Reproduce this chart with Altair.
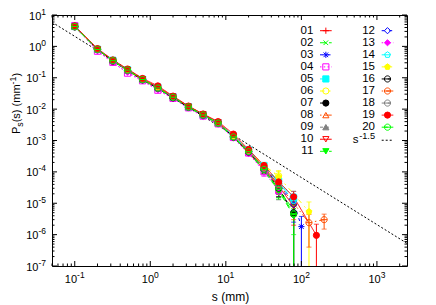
import altair as alt
import pandas as pd
import math

# ---------------- data ----------------
S_BINS = [0.1, 0.2, 0.32, 0.5, 0.79, 1.26, 2.0, 3.2, 5.0, 7.9, 12.6, 20, 32, 50, 79, 100, 126, 158, 200]
N = None
P_VALUES = {
    "01": [4.4, 0.82, 0.36, 0.18, 0.090, 0.049, 0.025, 0.0122, 0.0068, 0.0038, 0.00140, 4.8e-4, 1.4e-4, 3.8e-5, N, N, N, N, N],
    "02": [4.3, 0.80, 0.35, 0.17, 0.087, 0.046, 0.024, 0.0115, 0.0064, 0.0035, 0.00128, 4.3e-4, 1.2e-4, 2.8e-5, 6.0e-6, N, N, N, N],
    "03": [4.2, 0.79, 0.36, 0.175, 0.089, 0.048, 0.024, 0.0118, 0.0067, 0.0037, 0.00135, 4.6e-4, 1.5e-4, 4.5e-5, 1.1e-5, 1.8e-6, N, N, N],
    "04": [4.6, 0.70, 0.31, 0.14, 0.080, 0.040, 0.022, 0.0110, 0.0060, 0.0034, 0.00125, 4.0e-4, 1.0e-4, 2.5e-5, N, N, N, N, N],
    "05": [4.3, 0.81, 0.36, 0.18, 0.089, 0.050, 0.025, 0.0120, 0.0066, 0.0037, 0.00140, 5.0e-4, 1.6e-4, 5.0e-5, 1.5e-5, N, N, N, N],
    "06": [4.3, 0.80, 0.35, 0.18, 0.088, 0.047, 0.024, 0.0118, 0.0066, 0.0036, 0.00135, 4.8e-4, 1.6e-4, 7.5e-5, N, N, N, N, N],
    "07": [4.2, 0.80, 0.35, 0.17, 0.086, 0.047, 0.023, 0.0115, 0.0065, 0.0037, 0.00130, 4.5e-4, 1.3e-4, 3.0e-5, 4.5e-6, N, N, N, N],
    "08": [4.3, 0.81, 0.35, 0.175, 0.089, 0.050, 0.024, 0.0120, 0.0067, 0.0036, 0.00135, 4.6e-4, 1.4e-4, 4.0e-5, 1.0e-5, N, N, N, N],
    "09": [4.2, 0.79, 0.34, 0.17, 0.087, 0.046, 0.023, 0.0116, 0.0064, 0.0035, 0.00132, 4.7e-4, 1.3e-4, 3.5e-5, N, N, N, N, N],
    "10": [4.3, 0.80, 0.35, 0.175, 0.090, 0.049, 0.025, 0.0120, 0.0068, 0.0038, 0.00130, 4.0e-4, 1.2e-4, 3.5e-5, 8.0e-6, N, N, N, N],
    "11": [4.2, 0.78, 0.34, 0.17, 0.086, 0.045, 0.023, 0.0114, 0.0063, 0.0034, 0.00125, 4.2e-4, 1.1e-4, 2.5e-5, 4.0e-6, N, N, N, N],
    "12": [4.3, 0.80, 0.35, 0.175, 0.088, 0.047, 0.024, 0.0117, 0.0065, 0.0036, 0.00133, 4.5e-4, 1.35e-4, 3.8e-5, 9.0e-6, N, N, N, N],
    "13": [4.5, 0.72, 0.30, 0.15, 0.082, 0.041, 0.022, 0.0108, 0.0058, 0.0033, 0.00120, 3.8e-4, 1.1e-4, 3.0e-5, N, N, N, N, N],
    "14": [4.3, 0.81, 0.36, 0.18, 0.090, 0.050, 0.025, 0.0121, 0.0067, 0.0037, 0.00138, 4.9e-4, 1.5e-4, 4.5e-5, 1.2e-5, N, N, N, N],
    "15": [4.3, 0.80, 0.35, 0.175, 0.088, 0.048, 0.024, 0.0118, 0.0066, 0.0036, 0.00136, 4.8e-4, 1.55e-4, 7.0e-5, N, N, 5.4e-6, N, N],
    "16": [4.2, 0.79, 0.34, 0.17, 0.086, 0.046, 0.023, 0.0114, 0.0064, 0.0036, 0.00128, 4.3e-4, 1.2e-4, 3.0e-5, 5.0e-6, N, N, N, N],
    "17": [4.3, 0.80, 0.35, 0.175, 0.089, 0.049, 0.025, 0.0122, 0.0068, 0.0037, 0.00135, 4.6e-4, 1.4e-4, 4.0e-5, N, N, 2.4e-6, N, 3.0e-6],
    "18": [4.2, 0.79, 0.35, 0.17, 0.087, 0.047, 0.024, 0.0116, 0.0065, 0.0036, 0.00130, 4.5e-4, 1.3e-4, 3.5e-5, N, N, N, N, N],
    "19": [4.5, 0.85, 0.37, 0.19, 0.095, 0.055, 0.026, 0.0125, 0.0070, 0.0040, 0.00160, 5.2e-4, 1.6e-4, 4.8e-5, 1.6e-5, N, N, 9.5e-7, N],
    "20": [4.3, 0.80, 0.35, 0.175, 0.088, 0.047, 0.024, 0.0117, 0.0065, 0.0036, 0.00130, 4.4e-4, 1.2e-4, 2.8e-5, 4.5e-6, N, N, N, N],
}
# error bars for the tail bins s = 20, 32, 50, 79, 100, 126, 158, 200
ERR_TAIL = {
    "01": [5.0e-5, 3.5e-5, 1.7e-5, N, N, N, N, N],
    "02": [4.5e-5, 3.0e-5, 1.3e-5, 5.0e-6, N, N, N, N],
    "03": [5.0e-5, 3.5e-5, 2.0e-5, 7.0e-6, 2.0e-6, N, N, N],
    "04": [4.5e-5, 2.8e-5, 1.2e-5, N, N, N, N, N],
    "05": [5.0e-5, 3.5e-5, 2.0e-5, 9.0e-6, N, N, N, N],
    "06": [5.0e-5, 4.0e-5, 3.5e-5, N, N, N, N, N],
    "07": [4.5e-5, 3.0e-5, 1.4e-5, 4.6e-6, N, N, N, N],
    "08": [4.5e-5, 3.2e-5, 1.8e-5, 7.0e-6, N, N, N, N],
    "09": [4.5e-5, 3.0e-5, 1.6e-5, N, N, N, N, N],
    "10": [4.2e-5, 3.0e-5, 1.6e-5, 6.0e-6, N, N, N, N],
    "11": [4.3e-5, 2.8e-5, 1.2e-5, 4.2e-6, N, N, N, N],
    "12": [4.5e-5, 3.2e-5, 1.7e-5, 6.5e-6, N, N, N, N],
    "13": [4.0e-5, 2.8e-5, 1.4e-5, N, N, N, N, N],
    "14": [5.0e-5, 3.4e-5, 1.9e-5, 8.0e-6, N, N, N, N],
    "15": [5.0e-5, 3.5e-5, 3.3e-5, N, N, 5.6e-6, N, N],
    "16": [4.4e-5, 3.0e-5, 1.4e-5, 5.0e-6, N, N, N, N],
    "17": [4.6e-5, 3.2e-5, 1.8e-5, N, N, 2.0e-6, N, 1.5e-6],
    "18": [4.5e-5, 3.0e-5, 1.6e-5, N, N, N, N, N],
    "19": [5.0e-5, 3.6e-5, 2.0e-5, 8.0e-6, N, N, 1.2e-6, N],
    "20": [4.4e-5, 3.0e-5, 1.3e-5, 4.8e-6, N, N, N, N],
}
NAMES = list(P_VALUES.keys())
REF_AMPLITUDE = 0.066
REF_EXPONENT = -1.5
X_DOMAIN = [0.05, 2500]
Y_DOMAIN = [1e-7, 10]
X_MAJOR = [0.1, 1, 10, 100, 1000]
Y_MAJOR = [1e-7, 1e-6, 1e-5, 1e-4, 1e-3, 1e-2, 1e-1, 1, 10]

# ---------------- styles (gnuplot postscript look) ----------------
COLORS = ["#ff0000", "#00ff00", "#0000ff", "#ff00ff", "#00ffff", "#ffff00", "#000000", "#ff4d00", "#808080",
          "#ff0000", "#00ff00", "#0000ff", "#ff00ff", "#00ffff", "#ffff00", "#000000", "#ff4d00", "#808080",
          "#ff0000", "#00ff00"]
PLUS = "M-1,0L1,0M0,-1L0,1"
CROSS = "M-0.75,-0.75L0.75,0.75M-0.75,0.75L0.75,-0.75"
STAR = PLUS + CROSS
PENT = "M0,-1L0.951,-0.309L0.588,0.809L-0.588,0.809L-0.951,-0.309Z"
CIRCX = "M-1,0A1,1,0,1,0,1,0A1,1,0,1,0,-1,0ZM-1,0L1,0"
SHAPES = [PLUS, CROSS, STAR, "square", "square", "circle", "circle", "triangle-up", "triangle-up",
          "triangle-down", "triangle-down", "diamond", "diamond", PENT, PENT,
          CIRCX, CIRCX, CIRCX, "circle", CIRCX]
OPEN = "transparent"
FILLS = [OPEN, OPEN, OPEN, OPEN, COLORS[4], OPEN, COLORS[6], OPEN, COLORS[8],
         OPEN, COLORS[10], OPEN, COLORS[12], OPEN, COLORS[14],
         OPEN, OPEN, OPEN, COLORS[18], OPEN]
LT = [[1, 0], [6, 3], [3, 4.5], [1.5, 2.25], [9, 3, 1.5, 3], [4.5, 4.5, 1.5, 4.5],
      [3, 3, 3, 9], [1.5, 3, 9, 3, 1.5, 3], [3, 3, 3, 3, 3, 3, 3, 6]]
DASHES = [LT[i % 9] for i in range(len(NAMES))]
FONT = "Liberation Sans"
MSIZE = 38
KF = 11.5

W, H = 355, 251

# ---------------- tables ----------------
rows, err_rows = [], []
for name in NAMES:
    errs = [N] * 11 + ERR_TAIL[name]
    for s, p, e in zip(S_BINS, P_VALUES[name], errs):
        if p is None:
            continue
        rows.append({"series": name, "s": s, "P": p})
        if e is not None:
            err_rows.append({"series": name, "s": s, "lo": max(p - e, 1e-9), "hi": p + e})
df = pd.DataFrame(rows)
df_err = pd.DataFrame(err_rows)
df_ref = pd.DataFrame({"s": X_DOMAIN, "P": [REF_AMPLITUDE * v ** REF_EXPONENT for v in X_DOMAIN]})

xs = alt.Scale(type="log", domain=X_DOMAIN, nice=False)
ys = alt.Scale(type="log", domain=Y_DOMAIN, nice=False)
px = alt.Scale(type="linear", domain=[0, W], nice=False, zero=False)
py = alt.Scale(type="linear", domain=[H, 0], nice=False, zero=False)
c_scale = alt.Scale(domain=NAMES, range=COLORS)
sh_scale = alt.Scale(domain=NAMES, range=SHAPES)
f_scale = alt.Scale(domain=NAMES, range=FILLS)
d_scale = alt.Scale(domain=NAMES, range=DASHES)

X = lambda f: alt.X(f, type="quantitative", scale=xs, axis=None)
Y = lambda f: alt.Y(f, type="quantitative", scale=ys, axis=None)
PX = lambda f: alt.X(f, type="quantitative", scale=px, axis=None)
PY = lambda f: alt.Y(f, type="quantitative", scale=py, axis=None)
COL = alt.Color("series:N", scale=c_scale, legend=None)

lines = alt.Chart(df).mark_line(strokeWidth=1, clip=True).encode(
    x=X("s"), y=Y("P"), color=COL,
    strokeDash=alt.StrokeDash("series:N", scale=d_scale, legend=None),
    order="s:Q")
ebars = alt.Chart(df_err).mark_rule(strokeWidth=1, clip=True).encode(
    x=X("s"), y=Y("lo"), y2="hi", color=COL)
caps = alt.Chart(df_err).transform_fold(["lo", "hi"], as_=["end", "val"]).mark_tick(
    orient="horizontal", size=5, thickness=1, clip=True).encode(x=X("s"), y=Y("val"), color=COL)
points = alt.Chart(df).mark_point(size=MSIZE, strokeWidth=1, opacity=1, clip=True).encode(
    x=X("s"), y=Y("P"),
    shape=alt.Shape("series:N", scale=sh_scale, legend=None),
    stroke=alt.Stroke("series:N", scale=c_scale, legend=None),
    fill=alt.Fill("series:N", scale=f_scale, legend=None))
ref = alt.Chart(df_ref).mark_line(color="black", strokeDash=[2, 2], strokeWidth=1, clip=True).encode(
    x=X("s"), y=Y("P"))

# ---------------- key (two columns, label then sample) ----------------
KEY_LABEL_X = [261.3, 323.0]
KEY_LINE_X = [(268.0, 279.7), (329.7, 341.3)]
KEY_ROW0, KEY_DY = 15.7, 12.06
krows = []
for i, name in enumerate(NAMES):
    col = 0 if i < 11 else 1
    r = i if i < 11 else i - 11
    krows.append({"series": name, "lx": KEY_LABEL_X[col], "x1": KEY_LINE_X[col][0],
                  "x2": KEY_LINE_X[col][1], "xm": sum(KEY_LINE_X[col]) / 2,
                  "ly": KEY_ROW0 + KEY_DY * r})
dk = pd.DataFrame(krows)
k_text = alt.Chart(dk).mark_text(align="right", baseline="middle", font=FONT, fontSize=KF).encode(
    x=PX("lx"), y=PY("ly"), text="series:N")
k_line = alt.Chart(dk).mark_rule(strokeWidth=1).encode(
    x=PX("x1"), x2="x2", y=PY("ly"), color=COL,
    strokeDash=alt.StrokeDash("series:N", scale=d_scale, legend=None))
k_pts = alt.Chart(dk).mark_point(size=MSIZE, strokeWidth=1, opacity=1).encode(
    x=PX("xm"), y=PY("ly"),
    shape=alt.Shape("series:N", scale=sh_scale, legend=None),
    stroke=alt.Stroke("series:N", scale=c_scale, legend=None),
    fill=alt.Fill("series:N", scale=f_scale, legend=None))
ref_y = KEY_ROW0 + KEY_DY * 9 + 1
dkr = pd.DataFrame({"lx": [KEY_LABEL_X[1]], "sx": [KEY_LABEL_X[1] - 16.5], "x1": [KEY_LINE_X[1][0]],
                    "x2": [KEY_LINE_X[1][1]], "ly": [ref_y], "base": ["s"], "sup": ["-1.5"]})
k_ref_s = alt.Chart(dkr).mark_text(align="right", baseline="middle", font=FONT, fontSize=KF).encode(
    x=PX("sx"), y=PY("ly"), text="base:N")
k_ref_sup = alt.Chart(dkr).mark_text(align="right", baseline="middle", font=FONT, fontSize=9.2, dy=-4.5).encode(
    x=PX("lx"), y=PY("ly"), text="sup:N")
k_ref_line = alt.Chart(dkr).mark_rule(strokeWidth=1, color="black", strokeDash=[2, 2]).encode(
    x=PX("x1"), x2="x2", y=PY("ly"))

# ---------------- axes: inward ticks, labels, titles ----------------
MAJ, MIN = 5, 2.5
xt = []
for e in range(-2, 4):
    for k in range(1, 10):
        v = k * 10.0 ** e
        if X_DOMAIN[0] <= v <= X_DOMAIN[1]:
            ln = MAJ if k == 1 else MIN
            xt += [{"t": v, "a": H, "b": H - ln}, {"t": v, "a": 0, "b": ln}]
yt = []
for e in range(-7, 2):
    for k in range(1, 10):
        v = k * 10.0 ** e
        if Y_DOMAIN[0] <= v <= Y_DOMAIN[1] * 1.0001:
            ln = MAJ if k == 1 else MIN
            yt += [{"t": v, "a": 0, "b": ln}, {"t": v, "a": W, "b": W - ln}]
x_ticks = alt.Chart(pd.DataFrame(xt)).mark_rule(color="black", strokeWidth=1).encode(
    x=X("t"), y=PY("a"), y2="b")
y_ticks = alt.Chart(pd.DataFrame(yt)).mark_rule(color="black", strokeWidth=1).encode(
    y=Y("t"), x=PX("a"), x2="b")

TF, SF = 11, 8.5
def exp_str(v):
    return str(int(round(math.log10(v))))
def exp_w(txt):
    return sum(0.333 * SF if ch == "-" else 0.556 * SF for ch in txt)

xl = pd.DataFrame({"t": X_MAJOR, "e": [exp_str(v) for v in X_MAJOR], "y": [H + 14] * len(X_MAJOR)})
xl_neg, xl_pos = xl[xl.t < 1], xl[xl.t >= 1]
def xlabel_layers(d, shift):
    ten = alt.Chart(d).mark_text(align="right", baseline="middle", font=FONT, fontSize=TF, dx=shift).encode(
        x=X("t"), y=PY("y"), text=alt.value("10"))
    ex = alt.Chart(d).mark_text(align="left", baseline="middle", font=FONT, fontSize=SF, dx=shift, dy=-5).encode(
        x=X("t"), y=PY("y"), text="e:N")
    return [ten, ex]
ten_w = 2 * 0.556 * TF
x_labels = (xlabel_layers(xl_neg, ten_w - (ten_w + exp_w("-1")) / 2)
            + xlabel_layers(xl_pos, ten_w - (ten_w + exp_w("0")) / 2))

yl = pd.DataFrame({"t": Y_MAJOR, "e": [exp_str(v) for v in Y_MAJOR]})
yl["xe"] = [-6 - exp_w(e) for e in yl.e]
y_ten = alt.Chart(yl).mark_text(align="right", baseline="middle", font=FONT, fontSize=TF, dy=1.5).encode(
    x=PX("xe"), y=Y("t"), text=alt.value("10"))
y_exp = alt.Chart(yl).mark_text(align="left", baseline="middle", font=FONT, fontSize=SF, dy=-3.5).encode(
    x=PX("xe"), y=Y("t"), text="e:N")

x_title = alt.Chart(pd.DataFrame({"x": [W / 2 + 1], "y": [H + 31], "t": ["s (mm)"]})).mark_text(
    align="center", baseline="middle", font=FONT, fontSize=12).encode(x=PX("x"), y=PY("y"), text="t:N")

# y title: P_s(s) (mm^-1), rotated, built from pieces
YT_X, YT_START = -35, 119
yparts = [("P", 11, 0, 7.3), ("s", 8.8, 3, 4.4), ("(s) (mm", 11, 0, 37.9), ("-1", 8.8, -4, 7.8), (")", 11, 0, 3.7)]
ylayers = []
pos = YT_START
for txt, fs, off, wdt in yparts:
    d = pd.DataFrame({"x": [YT_X + off], "y": [pos], "t": [txt]})
    ylayers.append(alt.Chart(d).mark_text(align="left", baseline="middle", angle=270, font=FONT, fontSize=fs).encode(
        x=PX("x"), y=PY("y"), text="t:N"))
    pos -= wdt

chart = alt.layer(
    ref, lines, ebars, caps, points,
    k_line, k_pts, k_text, k_ref_line, k_ref_s, k_ref_sup,
    x_ticks, y_ticks, *x_labels, y_ten, y_exp, x_title, *ylayers
).resolve_scale(x="independent", y="independent").properties(
    width=W, height=H,
    padding={"left": 44, "top": 7, "right": 21, "bottom": 38},
    autosize=alt.AutoSizeParams(type="none"),
    background="white",
).configure_view(stroke="black", strokeWidth=1)

chart.save("out.html", embed_options={"renderer": "svg", "actions": False})
